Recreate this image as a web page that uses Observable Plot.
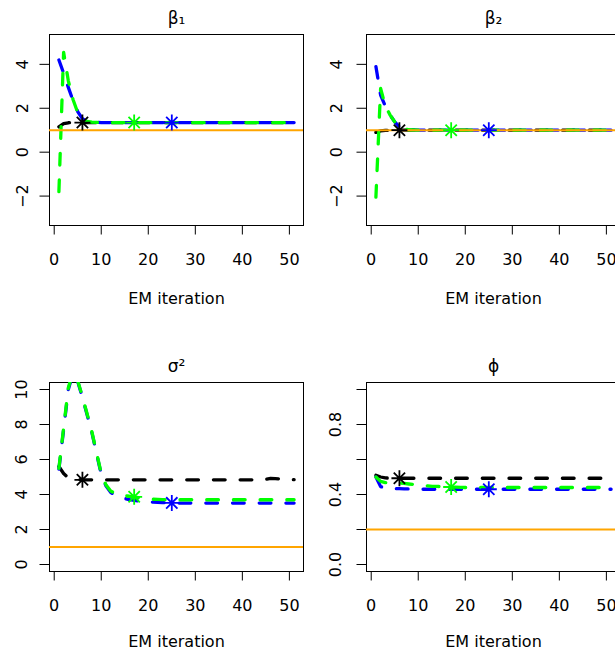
<!DOCTYPE html>
<html>
<head>
<meta charset="utf-8">
<script src="https://cdn.jsdelivr.net/npm/d3@7"></script>
<script src="https://cdn.jsdelivr.net/npm/@observablehq/plot@0.6"></script>
<style>
html, body { margin: 0; padding: 0; background: #fff; }
#page { position: relative; width: 615px; height: 658px; overflow: hidden; background: #fff; }
.panel { position: absolute; width: 320px; height: 329px; }
</style>
</head>
<body>
<div id="page"></div>
<script>
// ---------------- data ----------------
const iterations = [
  1, 2, 3, 4, 5, 6, 7, 8, 9, 10,
  11, 12, 13, 14, 15, 16, 17, 18, 19, 20,
  21, 22, 23, 24, 25, 26, 27, 28, 29, 30,
  31, 32, 33, 34, 35, 36, 37, 38, 39, 40,
  41, 42, 43, 44, 45, 46, 47, 48, 49, 50,
  51
];

const xTicks = [0, 10, 20, 30, 40, 50];

const seriesColors = ["black", "#0000FF", "#00FF00"];   // drawing order: black, blue, green
const convergedAt = [6, 25, 17];                          // iteration of the star for each series

const panelTitles = ["β₁", "β₂", "σ²", "ϕ"];
const trueValues = [1, 1, 1, 0.2];

const beta1Black = [
  1.15, 1.30, 1.34, 1.35, 1.35, 1.35, 1.35, 1.35, 1.35, 1.35,
  1.35, 1.35, 1.35, 1.35, 1.35, 1.35, 1.35, 1.35, 1.35, 1.35,
  1.35, 1.35, 1.35, 1.35, 1.35, 1.35, 1.35, 1.35, 1.35, 1.35,
  1.35, 1.35, 1.35, 1.35, 1.35, 1.35, 1.35, 1.35, 1.35, 1.35,
  1.35, 1.35, 1.35, 1.35, 1.35, 1.35, 1.35, 1.35, 1.35, 1.35,
  1.35
];
const beta1Blue = [
  4.20, 3.60, 2.95, 2.35, 1.85, 1.52, 1.41, 1.37, 1.36, 1.35,
  1.35, 1.35, 1.35, 1.35, 1.35, 1.35, 1.35, 1.35, 1.35, 1.35,
  1.35, 1.35, 1.35, 1.35, 1.35, 1.35, 1.35, 1.35, 1.35, 1.35,
  1.35, 1.35, 1.35, 1.35, 1.35, 1.35, 1.35, 1.35, 1.35, 1.35,
  1.35, 1.35, 1.35, 1.35, 1.35, 1.35, 1.35, 1.35, 1.35, 1.35,
  1.35
];
const beta1Green = [
  -1.80, 4.55, 3.25, 2.40, 1.80, 1.50, 1.40, 1.37, 1.36, 1.35,
  1.35, 1.35, 1.35, 1.35, 1.35, 1.35, 1.35, 1.35, 1.35, 1.35,
  1.35, 1.35, 1.35, 1.35, 1.35, 1.35, 1.35, 1.35, 1.35, 1.35,
  1.35, 1.35, 1.35, 1.35, 1.35, 1.35, 1.35, 1.35, 1.35, 1.35,
  1.35, 1.35, 1.35, 1.35, 1.35, 1.35, 1.35, 1.35, 1.35, 1.35,
  1.35
];

const beta2Black = [
  0.90, 0.97, 0.99, 1.00, 1.00, 1.00, 1.00, 1.00, 1.00, 1.00,
  1.00, 1.00, 1.00, 1.00, 1.00, 1.00, 1.00, 1.00, 1.00, 1.00,
  1.00, 1.00, 1.00, 1.00, 1.00, 1.00, 1.00, 1.00, 1.00, 1.00,
  1.00, 1.00, 1.00, 1.00, 1.00, 1.00, 1.00, 1.00, 1.00, 1.00,
  1.00, 1.00, 1.00, 1.00, 1.00, 1.00, 1.00, 1.00, 1.00, 1.00,
  1.00
];
const beta2Blue = [
  3.90, 2.60, 2.10, 1.70, 1.38, 1.15, 1.06, 1.02, 1.01, 1.00,
  1.00, 1.00, 1.00, 1.00, 1.00, 1.00, 1.00, 1.00, 1.00, 1.00,
  1.00, 1.00, 1.00, 1.00, 1.00, 1.00, 1.00, 1.00, 1.00, 1.00,
  1.00, 1.00, 1.00, 1.00, 1.00, 1.00, 1.00, 1.00, 1.00, 1.00,
  1.00, 1.00, 1.00, 1.00, 1.00, 1.00, 1.00, 1.00, 1.00, 1.00,
  1.00
];
const beta2Green = [
  -2.05, 2.90, 2.10, 1.70, 1.38, 1.15, 1.06, 1.02, 1.01, 1.00,
  1.00, 1.00, 1.00, 1.00, 1.00, 1.00, 1.00, 1.00, 1.00, 1.00,
  1.00, 1.00, 1.00, 1.00, 1.00, 1.00, 1.00, 1.00, 1.00, 1.00,
  1.00, 1.00, 1.00, 1.00, 1.00, 1.00, 1.00, 1.00, 1.00, 1.00,
  1.00, 1.00, 1.00, 1.00, 1.00, 1.00, 1.00, 1.00, 1.00, 1.00,
  1.00
];

const sigma2Black = [
  5.60, 5.20, 4.95, 4.87, 4.85, 4.84, 4.84, 4.84, 4.84, 4.84,
  4.84, 4.84, 4.84, 4.84, 4.84, 4.84, 4.84, 4.84, 4.84, 4.84,
  4.84, 4.84, 4.84, 4.84, 4.84, 4.84, 4.84, 4.84, 4.84, 4.84,
  4.84, 4.84, 4.84, 4.84, 4.84, 4.84, 4.84, 4.84, 4.84, 4.84,
  4.84, 4.84, 4.84, 4.84, 4.87, 4.92, 4.91, 4.88, 4.87, 4.86,
  4.85
];
const sigma2Blue = [
  5.45, 7.70, 10.00, 10.95, 10.45, 9.55, 8.55, 7.55, 6.35, 5.15,
  4.50, 4.12, 3.95, 3.85, 3.77, 3.71, 3.67, 3.63, 3.60, 3.58,
  3.56, 3.55, 3.54, 3.53, 3.52, 3.51, 3.51, 3.51, 3.51, 3.51,
  3.51, 3.51, 3.51, 3.51, 3.51, 3.51, 3.51, 3.51, 3.51, 3.51,
  3.51, 3.51, 3.51, 3.51, 3.51, 3.51, 3.51, 3.51, 3.51, 3.51,
  3.51
];
const sigma2Green = [
  5.50, 7.80, 10.10, 11.00, 10.50, 9.60, 8.60, 7.60, 6.40, 5.20,
  4.55, 4.20, 4.05, 3.98, 3.94, 3.90, 3.87, 3.82, 3.78, 3.75,
  3.73, 3.72, 3.71, 3.70, 3.70, 3.70, 3.70, 3.70, 3.70, 3.70,
  3.70, 3.70, 3.70, 3.70, 3.70, 3.70, 3.70, 3.70, 3.70, 3.70,
  3.70, 3.70, 3.70, 3.70, 3.70, 3.70, 3.70, 3.70, 3.70, 3.70,
  3.70
];

const phiBlack = [
  0.510, 0.500, 0.495, 0.493, 0.493, 0.493, 0.493, 0.493, 0.493, 0.493,
  0.493, 0.493, 0.493, 0.493, 0.493, 0.493, 0.493, 0.493, 0.493, 0.493,
  0.493, 0.493, 0.493, 0.493, 0.493, 0.493, 0.493, 0.493, 0.493, 0.493,
  0.493, 0.493, 0.493, 0.493, 0.493, 0.493, 0.493, 0.493, 0.493, 0.493,
  0.493, 0.493, 0.493, 0.493, 0.493, 0.493, 0.493, 0.493, 0.493, 0.493,
  0.493
];
const phiBlue = [
  0.500, 0.445, 0.437, 0.435, 0.434, 0.433, 0.432, 0.432, 0.431, 0.431,
  0.430, 0.430, 0.430, 0.430, 0.430, 0.430, 0.430, 0.430, 0.430, 0.430,
  0.430, 0.430, 0.430, 0.430, 0.430, 0.430, 0.430, 0.430, 0.430, 0.430,
  0.430, 0.430, 0.430, 0.430, 0.430, 0.430, 0.430, 0.430, 0.430, 0.430,
  0.430, 0.430, 0.430, 0.430, 0.430, 0.430, 0.430, 0.430, 0.430, 0.430,
  0.430
];
const phiGreen = [
  0.500, 0.475, 0.468, 0.467, 0.466, 0.465, 0.463, 0.460, 0.457, 0.454,
  0.451, 0.449, 0.447, 0.446, 0.445, 0.444, 0.443, 0.442, 0.441, 0.440,
  0.440, 0.440, 0.440, 0.440, 0.440, 0.440, 0.440, 0.440, 0.440, 0.440,
  0.440, 0.440, 0.440, 0.440, 0.440, 0.440, 0.440, 0.440, 0.440, 0.440,
  0.440, 0.440, 0.440, 0.440, 0.440, 0.440, 0.440, 0.440, 0.440, 0.440,
  0.440
];

const betaTicks = [-2, 0, 2, 4];
const betaTickLabels = ["−2", "0", "2", "4"];
const sigmaTicks = [0, 2, 4, 6, 8, 10];
const sigmaTickLabels = ["0", "2", "4", "6", "8", "10"];
const phiTicks = [0, 0.2, 0.4, 0.6, 0.8, 1.0];
const phiLabelValues = [0, 0.4, 0.8];
const phiTickLabels = ["0.0", "0.4", "0.8"];

// ---------------- layout ----------------
const FONT = "'DejaVu Sans', 'Liberation Sans', Arial, sans-serif";

const panels = [
  {series: [beta1Black, beta1Blue, beta1Green], left: 0,   top: 0,   mt: 34, mb: 104, yDomain: [-3.34, 5.36],
   ticks: betaTicks, labelVals: betaTicks, labels: betaTickLabels, labelDx: -26.5, xlabDy: 73},
  {series: [beta2Black, beta2Blue, beta2Green], left: 317, top: 0,   mt: 34, mb: 104, yDomain: [-3.34, 5.36],
   ticks: betaTicks, labelVals: betaTicks, labels: betaTickLabels, labelDx: -30, xlabDy: 73},
  {series: [sigma2Black, sigma2Blue, sigma2Green], left: 0,   top: 329, mt: 53, mb: 87, yDomain: [-0.4, 10.4],
   ticks: sigmaTicks, labelVals: sigmaTicks, labels: sigmaTickLabels, labelDx: -28, xlabDy: 70},
  {series: [phiBlack, phiBlue, phiGreen], left: 317, top: 329, mt: 53, mb: 87, yDomain: [-0.04, 1.04],
   ticks: phiTicks, labelVals: phiLabelValues, labels: phiTickLabels, labelDx: -31, xlabDy: 70}
];

// R's pch = 8 asterisk: "+" overlaid with "x"
const starSymbol = {
  draw(context, size) {
    const r = Math.sqrt(size / Math.PI);
    const d = r * Math.SQRT1_2;
    context.moveTo(-r, 0); context.lineTo(r, 0);
    context.moveTo(0, -r); context.lineTo(0, r);
    context.moveTo(-d, -d); context.lineTo(d, d);
    context.moveTo(-d, d); context.lineTo(d, -d);
  }
};

const page = document.getElementById("page");

panels.forEach((cfg, p) => {
  const marks = [];
  marks.push(Plot.frame({stroke: "black", strokeWidth: 1}));
  marks.push(Plot.axisX({ticks: xTicks, tickSize: 9.5, tickFormat: () => "", label: null}));
  marks.push(Plot.axisY({ticks: cfg.ticks, tickSize: 9.5, tickFormat: () => "", label: null}));
  marks.push(Plot.text(xTicks, {x: d => d, text: d => String(d), frameAnchor: "bottom", dy: 34,
    lineAnchor: "middle", fontSize: 16}));
  marks.push(Plot.text(cfg.labelVals, {y: d => d, text: (d, i) => cfg.labels[i], frameAnchor: "left",
    dx: cfg.labelDx, rotate: -90, textAnchor: "middle", lineAnchor: "middle", fontSize: 16}));

  cfg.series.forEach((vals, k) => {
    const rows = iterations.map((it, i) => ({it, v: vals[i]}));
    marks.push(Plot.line(rows, {x: "it", y: "v", stroke: seriesColors[k], strokeWidth: 3.3,
      strokeDasharray: "11.7,15", strokeLinecap: "round", strokeLinejoin: "round", clip: true}));
  });

  marks.push(Plot.ruleY([trueValues[p]], {stroke: "#FFA500", strokeWidth: 2}));

  cfg.series.forEach((vals, k) => {
    const it = convergedAt[k];
    marks.push(Plot.dot([{it, v: vals[it - 1]}], {x: "it", y: "v", r: 8, symbol: starSymbol,
      stroke: seriesColors[k], fill: "none", strokeWidth: 1.8}));
  });

  marks.push(Plot.text([panelTitles[p]], {text: d => d, frameAnchor: "top", dy: -11,
    lineAnchor: "bottom", fontSize: 17}));
  marks.push(Plot.text(["EM iteration"], {text: d => d, frameAnchor: "bottom", dy: cfg.xlabDy,
    lineAnchor: "middle", fontSize: 16}));

  const chart = Plot.plot({
    width: 320,
    height: 329,
    marginLeft: 49,
    marginRight: 17,
    marginTop: cfg.mt,
    marginBottom: cfg.mb,
    x: {domain: [-1, 53]},
    y: {domain: cfg.yDomain},
    style: {fontFamily: FONT, fontSize: "16px", color: "black", background: "white", maxWidth: "none", overflow: "visible"},
    marks
  });

  const div = document.createElement("div");
  div.className = "panel";
  div.style.left = cfg.left + "px";
  div.style.top = cfg.top + "px";
  div.appendChild(chart);
  page.appendChild(div);
});
</script>
</body>
</html>
